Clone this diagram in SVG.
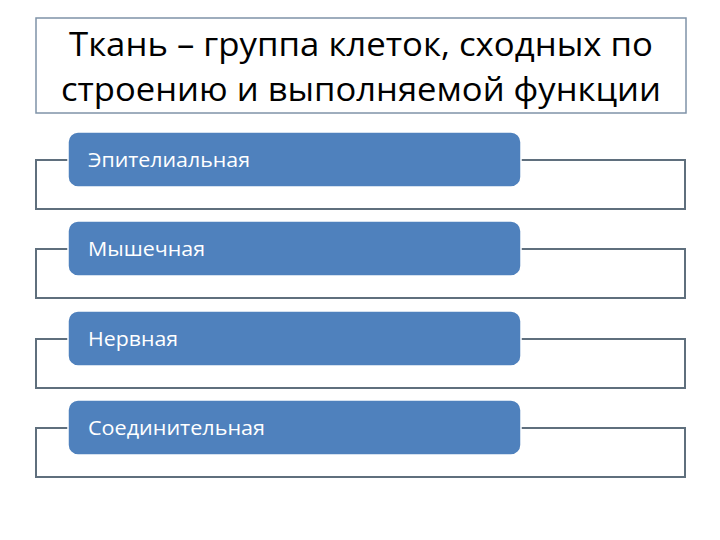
<svg xmlns="http://www.w3.org/2000/svg" width="720" height="540" viewBox="0 0 720 540">
<style>
.title{font-family:"Open Sans","Liberation Sans",sans-serif;font-size:32px;fill:#000;}
.lbl{font-family:"Open Sans","Liberation Sans",sans-serif;font-size:20px;fill:#fff;}
.box{fill:#4f81bd;stroke:#fff;stroke-width:1.5;}
.br{fill:none;stroke:#5f6f7d;stroke-width:2;}
</style>
<rect width="720" height="540" fill="#fff"/>
<g id="title">
<rect x="36" y="18" width="650" height="95" fill="#fff" stroke="#7f93a8" stroke-width="1.5"/>
<text class="title" x="361" y="56" text-anchor="middle" textLength="584" lengthAdjust="spacingAndGlyphs">Ткань – группа клеток, сходных по</text>
<text class="title" x="361" y="101" text-anchor="middle" textLength="600" lengthAdjust="spacingAndGlyphs">строению и выполняемой функции</text>
</g>
<g id="connectors">
<path class="br" d="M68,160 H36 V209 H685 V160 H521"/>
<path class="br" d="M68,249 H36 V298 H685 V249 H521"/>
<path class="br" d="M68,339 H36 V388 H685 V339 H521"/>
<path class="br" d="M68,428 H36 V477 H685 V428 H521"/>
</g>
<g id="n1"><rect class="box" x="68" y="132" width="453" height="55" rx="10"/><text class="lbl" x="88" y="167" textLength="162" lengthAdjust="spacingAndGlyphs">Эпителиальная</text></g>
<g id="n2"><rect class="box" x="68" y="221" width="453" height="55" rx="10"/><text class="lbl" x="88" y="256" textLength="117" lengthAdjust="spacingAndGlyphs">Мышечная</text></g>
<g id="n3"><rect class="box" x="68" y="311" width="453" height="55" rx="10"/><text class="lbl" x="88" y="346" textLength="90" lengthAdjust="spacingAndGlyphs">Нервная</text></g>
<g id="n4"><rect class="box" x="68" y="400" width="453" height="55" rx="10"/><text class="lbl" x="88" y="435" textLength="177" lengthAdjust="spacingAndGlyphs">Соединительная</text></g>
</svg>
